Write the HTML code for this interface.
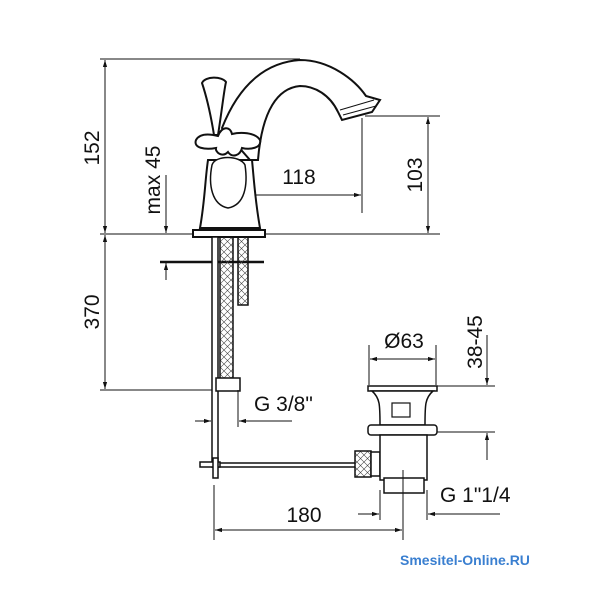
<!DOCTYPE html>
<html><head><meta charset="utf-8"><style>
html,body{margin:0;padding:0;background:#fff;width:600px;height:600px;overflow:hidden}
svg text{font-family:"Liberation Sans",sans-serif;fill:#111}
</style></head><body>
<svg width="600" height="600" viewBox="0 0 600 600" xmlns="http://www.w3.org/2000/svg">
<defs>
<marker id="a" viewBox="0 0 10 10" refX="10" refY="5" markerWidth="7" markerHeight="7" orient="auto-start-reverse"><path d="M0,2 L10,5 L0,8 z" fill="#111"/></marker>
<pattern id="x" width="7" height="7" patternUnits="userSpaceOnUse"><path d="M0,0 L7,7 M7,0 L0,7" stroke="#444" stroke-width="0.6"/></pattern>
</defs>
<g stroke="#111" fill="none" stroke-width="1">
<line x1="100" y1="59" x2="300" y2="59"/>
<line x1="100" y1="234" x2="440" y2="234"/>
<line x1="100" y1="390" x2="218" y2="390"/>
<line x1="105" y1="60" x2="105" y2="233" marker-start="url(#a)" marker-end="url(#a)"/>
<line x1="105" y1="235" x2="105" y2="389" marker-start="url(#a)" marker-end="url(#a)"/>
<line x1="166" y1="175" x2="166" y2="233" marker-end="url(#a)"/>
<line x1="166" y1="280" x2="166" y2="263" marker-end="url(#a)"/>
<line x1="160" y1="262" x2="264" y2="262" stroke-width="2.5"/>
<line x1="365" y1="116" x2="440" y2="116"/>
<line x1="428" y1="117" x2="428" y2="233" marker-start="url(#a)" marker-end="url(#a)"/>
<line x1="362" y1="118" x2="362" y2="213"/>
<line x1="228" y1="180" x2="228" y2="205"/>
<line x1="229" y1="195" x2="361" y2="195" marker-start="url(#a)" marker-end="url(#a)"/>
</g>
<g stroke="#111" fill="#fff" stroke-width="2">
<path d="M222,128 C240,82 268,62 300,60 C330,60 355,80 366,96 L380,100 L372,112 L342,120 L338,112 C330,95 315,86 300,86 C278,88 262,110 258,160 L250,160 Z"/>
<path d="M340,110 L374,100 M343,115 L376,106" fill="none" stroke-width="1"/>
<path d="M202,83 C205,76 222,76 226,82 C224,90 222,110 218,135 L214,135 C210,110 205,92 202,83 Z"/>
<path d="M200,228 C205,200 205,180 208,160 L252,160 C254,180 255,200 260,228 Z"/>
<path d="M193,230 L265,230 L265,237 L193,237 Z"/>
<path d="M196,140 C200,133 210,134 218,136 C222,126 230,126 232,134 C240,132 255,132 260,140 C262,148 250,150 242,148 C240,156 232,158 228,152 C222,158 215,152 216,148 C205,150 193,148 196,140 Z"/>
<path d="M212,165 C215,155 240,155 245,165 C248,185 245,205 228,208 C212,205 208,185 212,165 Z" stroke-width="1.5"/>
</g>
<g stroke="#111" fill="#fff" stroke-width="1.5">
<rect x="212" y="237" width="6" height="230"/>
<rect x="220" y="237" width="13" height="145" fill="url(#x)"/>
<rect x="238" y="237" width="10" height="68" fill="url(#x)"/>
<rect x="216" y="378" width="24" height="13"/>
<line x1="212" y1="463" x2="355" y2="463"/>
<line x1="212" y1="467" x2="355" y2="467"/>
<rect x="200" y="462" width="20" height="5"/>
<rect x="213" y="458" width="5" height="20"/>
<rect x="355" y="451" width="16" height="26" fill="url(#x)"/>
<rect x="371" y="452" width="9" height="24"/>
<rect x="368" y="386" width="69" height="5"/>
<path d="M372,391 C380,398 380,405 380,425 L425,425 C425,405 425,398 433,391 Z"/>
<rect x="392" y="403" width="18" height="14" stroke-width="1.2"/>
<rect x="368" y="425" width="69" height="10" rx="3"/>
<rect x="380" y="435" width="47" height="45"/>
<rect x="384" y="478" width="40" height="15"/>
</g>
<g stroke="#111" fill="none" stroke-width="1">
<line x1="212" y1="390" x2="212" y2="425"/>
<line x1="238" y1="390" x2="238" y2="427"/>
<line x1="195" y1="421" x2="211" y2="421" marker-end="url(#a)"/>
<line x1="292" y1="421" x2="239" y2="421" marker-end="url(#a)"/>
<line x1="369" y1="345" x2="369" y2="385"/>
<line x1="436" y1="345" x2="436" y2="385"/>
<line x1="370" y1="359" x2="435" y2="359" marker-start="url(#a)" marker-end="url(#a)"/>
<line x1="437" y1="386" x2="495" y2="386"/>
<line x1="437" y1="432" x2="495" y2="432"/>
<line x1="487" y1="335" x2="487" y2="385" marker-end="url(#a)"/>
<line x1="487" y1="460" x2="487" y2="433" marker-end="url(#a)"/>
<line x1="214" y1="485" x2="214" y2="540"/>
<line x1="403" y1="470" x2="403" y2="540"/>
<line x1="215" y1="530" x2="402" y2="530" marker-start="url(#a)" marker-end="url(#a)"/>
<line x1="380" y1="490" x2="380" y2="520"/>
<line x1="427" y1="490" x2="427" y2="520"/>
<line x1="358" y1="514" x2="379" y2="514" marker-end="url(#a)"/>
<line x1="500" y1="514" x2="428" y2="514" marker-end="url(#a)"/>
</g>
<text x="0" y="0" font-size="21" transform="translate(99,148) rotate(-90)" text-anchor="middle">152</text>
<text x="0" y="0" font-size="21" transform="translate(99,312) rotate(-90)" text-anchor="middle">370</text>
<text x="0" y="0" font-size="21" transform="translate(160,180) rotate(-90)" text-anchor="middle">max 45</text>
<text x="0" y="0" font-size="21" transform="translate(422,175) rotate(-90)" text-anchor="middle">103</text>
<text x="0" y="0" font-size="21" transform="translate(482,342) rotate(-90)" text-anchor="middle">38-45</text>
<text x="299" y="184" font-size="21" text-anchor="middle">118</text>
<text x="404" y="348" font-size="21" text-anchor="middle">Ø63</text>
<text x="254" y="411" font-size="21">G 3/8"</text>
<text x="304" y="522" font-size="21" text-anchor="middle">180</text>
<text x="440" y="502" font-size="21">G 1"1/4</text>
<text x="400" y="565" font-size="14" font-weight="bold" style="fill:#3a7fd0">Smesitel-Online.RU</text>
</svg>
</body></html>
